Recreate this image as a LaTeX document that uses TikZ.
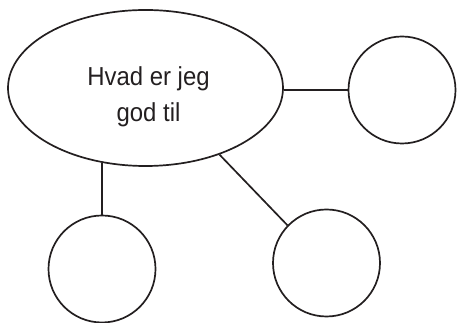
\documentclass[tikz,border=0pt]{standalone}
\usepackage{fontspec}
\setmainfont{Liberation Sans}[FakeStretch=0.92]
\usepackage{tikz}
\usetikzlibrary{shapes.geometric}
\usetikzlibrary{positioning}
\definecolor{inkblack}{HTML}{231F20}

\begin{document}
\begin{tikzpicture}[x=1pt,y=1pt]
	\useasboundingbox (0,0) rectangle (457,323);
	\begin{scope}[every node/.style={draw=inkblack, line width=1.7pt, inner sep=0pt}]
		\node[ellipse, minimum width=275pt, minimum height=156pt] (hub) at (145.5,235) {};
		\node[circle, minimum size=107pt] (right) at (402,233) {};
		\node[circle, minimum size=107pt] (left) at (102,54) {};
		\node[circle, minimum size=107pt] (mid) at (326.5,60) {};
	\end{scope}

	\node[text=inkblack, align=center, font=\fontsize{26}{36}\selectfont] (hubtext) at (148.5,226.5) {Hvad er jeg\\god til};

	\begin{scope}[every edge/.style={draw=inkblack, line width=1.7pt}]
		\path (hub.east |- right.west) edge (right.west);
		\path (left.north |- hub.240) edge (left.north);
		\path (hub.318) edge (mid.136);
	\end{scope}
\end{tikzpicture}
\end{document}
